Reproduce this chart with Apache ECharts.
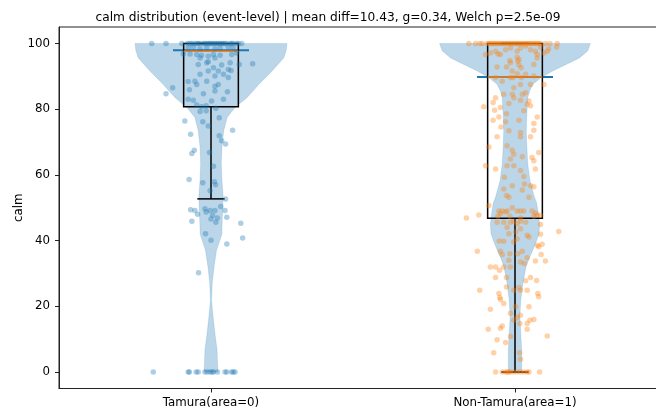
<!DOCTYPE html>
<html><head><meta charset="utf-8">
<script src="https://cdn.jsdelivr.net/npm/echarts@6/dist/echarts.min.js"></script>
<style>html,body{margin:0;padding:0;background:#fff}#c{width:656px;height:413px}</style>
</head><body><div id="c"></div>
<script>
const titleText = 'calm distribution (event-level) | mean diff=10.43, g=0.34, Welch p=2.5e-09';
const categories = ['Tamura(area=0)', 'Non-Tamura(area=1)'];
const yTicks = [0, 20, 40, 60, 80, 100];

// box statistics per group
const boxQ1 = [80.7, 46.8];
const boxMedian = [97.6, 89.8];
const boxQ3 = [100, 100];
const whiskerLow = [52.7, 0];
const whiskerHigh = [100, 100];
const violinMedian = [97.9, 89.8];

// violin profiles: [value, half-width in x units]
const violinTamura = [
  [100,0.250],[97.7,0.247],[95.6,0.239],[93.6,0.220],[91.6,0.201],[89.5,0.178],[87.5,0.157],
  [85.5,0.138],[83.5,0.118],[80.5,0.079],[77.5,0.053],[73.5,0.042],[68.5,0.036],[63.5,0.034],
  [58.5,0.036],[53.5,0.040],[48.5,0.038],[43.5,0.036],[42,0.036],[37,0.018],[32,0.010],
  [27,0.004],[21.8,0.002],[16.8,0.007],[11.7,0.013],[6.7,0.020],[1.6,0.022],[0,0.023]
];
const violinNonTamura = [
  [100,0.248],[97.7,0.239],[95.6,0.212],[93.6,0.168],[91.6,0.124],[89.6,0.086],[87.6,0.059],
  [85.5,0.048],[83.5,0.042],[78.5,0.039],[73.4,0.037],[68.4,0.039],[63.3,0.042],[58.3,0.049],
  [53.2,0.064],[51.6,0.071],[48.2,0.077],[45,0.081],[42.1,0.079],[39.5,0.069],[37,0.058],
  [34.5,0.046],[32,0.036],[27,0.026],[21.9,0.019],[16.9,0.016],[11.8,0.019],[6.7,0.022],
  [1.7,0.022],[0,0.022]
];

// jittered points: [x jitter, value]
const tamuraPoints = [
  [-0.195,100],[-0.148,100],[-0.096,100],[-0.078,100],[-0.064,100],[-0.047,100],[-0.036,100],[-0.025,100],
  [-0.014,100],[-0.003,100],[0.008,100],[0.019,100],[0.030,100],[0.041,100],[0.052,100],[0.063,100],
  [0.073,100],[0.084,100],[0.101,100],[-0.070,100],[-0.042,100],[-0.020,100],[0.002,100],[0.024,100],
  [0.046,100],[0.068,100],[0.090,100],[-0.055,100],[0.035,100],[0.013,100],[-0.008,100],
  [-0.075,98.6],[-0.058,98.9],[-0.036,98.4],[-0.014,98.6],[0.013,98.4],[0.030,98.6],[0.057,98.9],[0.073,98.6],
  [-0.069,96.8],[-0.047,96.6],[-0.031,96.4],[-0.009,96.1],[0.008,96.6],[0.030,96.4],[0.068,96.6],[0.084,97.1],
  [-0.091,96.8],[-0.036,95.6],[-0.009,94.4],[0.013,95.6],[-0.042,93.6],[-0.014,94.1],[0.093,93.6],[0.137,93.8],
  [0.063,94.1],[0.035,93.4],[0.008,92.6],[-0.036,90.6],[-0.009,91.6],[0.024,91.6],[0.057,92.1],[0.013,90.1],
  [0.041,90.6],[0.066,91.8],[-0.075,88.4],[-0.053,88.5],[-0.047,87.5],[-0.014,88.5],[0.013,87.0],[0.024,87.5],
  [0.057,89.6],[-0.126,86.5],[-0.148,84.7],[-0.071,85.9],[-0.025,84.7],[0.013,85.5],[0.054,85.3],
  [-0.075,83.0],[-0.058,82.7],[0.002,82.5],[0.041,83.0],[-0.047,81.3],[-0.031,80.7],[-0.016,81.0],
  [-0.036,79.3],[-0.016,79.5],[0.016,80.3],[-0.086,76.4],[-0.027,76.2],[0.027,77.4],[-0.009,74.9],
  [0.071,73.6],[-0.067,72.4],[0.027,71.9],[0.035,70.4],[0.048,69.4],[-0.055,67.5],[-0.063,66.5],
  [-0.005,66.8],[0.008,62.6],[-0.072,58.6],[-0.027,57.6],[0.011,57.9],[0.015,57.0],[-0.003,55.2],[0.048,52.7],
  [-0.067,49.4],[-0.053,49.2],[-0.044,48.0],[-0.020,49.7],[-0.016,48.7],[-0.003,49.2],[0.013,49.2],[0.032,50.4],
  [0.046,49.2],[0.052,47.1],[0.021,46.9],[0.005,47.7],[0,46.6],[0.016,45.6],[-0.063,45.9],[0.098,45.3],
  [-0.018,42.1],[0,40.1],[0.104,40.8],[0.052,39.0],[-0.041,30.2],
  [-0.190,0],[-0.075,0],[-0.071,0],[-0.049,0],[-0.042,0],[-0.020,0],[-0.012,0],[-0.003,0],
  [0.004,0],[0.008,0],[0.021,0],[0.046,0],[0.052,0],[0.068,0],[0.073,0],[0.079,0]
];
const nonTamuraPoints = [
  [-0.152,100],[-0.130,100],[-0.116,100],[-0.108,100],[-0.092,100],[-0.081,100],[-0.070,100],[-0.059,100],
  [-0.048,100],[-0.037,100],[-0.026,100],[-0.015,100],[-0.004,100],[0.007,100],[0.018,100],[0.029,100],
  [0.040,100],[0.051,100],[0.062,100],[0.073,100],[0.084,100],[0.100,100],[0.115,100],[0.139,100],
  [-0.086,100],[-0.075,100],[-0.064,100],[-0.053,100],[-0.042,100],[-0.031,100],[-0.020,100],[-0.009,100],
  [0.002,100],[0.013,100],[0.024,100],[0.035,100],[0.046,100],[0.056,100],[0.067,100],[0.078,100],
  [-0.097,96.6],[-0.081,97.1],[-0.064,97.6],[-0.048,96.6],[-0.031,98.1],[-0.015,98.6],[0.007,97.6],[0.018,98.6],
  [0.035,99.2],[0.051,98.1],[0.067,97.6],[0.084,98.9],[0.111,98.4],[0.137,98.9],[-0.056,96.8],[0.007,95.8],
  [0.013,95.1],[-0.017,94.8],[0.073,96.6],[0.095,97.1],[0.106,97.6],[-0.059,92.8],[-0.028,92.8],[-0.015,94.1],
  [0.009,94.6],[0.013,93.4],[0.020,92.6],[-0.009,91.6],[0.007,90.8],[0.035,90.6],[-0.006,89.6],[0.021,89.6],
  [0.062,90.1],[-0.064,89.6],[-0.015,89.6],[0.062,93.6],[0.073,95.6],[-0.042,88.5],[0.018,87.5],[0.051,87.5],
  [0.095,87.5],[-0.004,86.5],[-0.009,84.5],[0.024,84.5],[0.035,85.0],[-0.037,84.5],[-0.004,83.5],[0.046,82.5],
  [0.040,81.5],[-0.064,83.5],[-0.072,82.0],[-0.103,80.7],[-0.067,79.7],[-0.048,80.5],[-0.020,81.7],[0.018,82.7],
  [0.051,81.0],[0.029,79.5],[-0.028,78.6],[0.073,77.6],[-0.031,76.2],[0.013,76.6],[-0.072,76.6],[-0.053,77.6],
  [0.062,75.6],[0.062,73.6],[0.018,72.9],[-0.020,73.4],[-0.046,74.6],[-0.059,71.6],[0.018,71.6],[0.051,71.6],
  [-0.086,68.5],[-0.026,68.9],[-0.009,67.5],[-0.004,66.3],[0.024,65.5],[0.078,66.8],[-0.015,64.8],[0.056,65.3],
  [0.062,64.3],[-0.097,62.8],[-0.064,61.8],[-0.026,62.8],[-0.004,62.8],[0.067,61.8],[0.018,61.3],[0.029,59.5],
  [-0.035,59.3],[0.031,57.2],[-0.009,56.7],[0.051,56.7],[0.062,56.4],[0.024,55.4],[-0.037,55.7],[-0.028,53.7],
  [-0.020,53.2],[0.046,53.2],
  [-0.086,50.7],[-0.053,49.0],[-0.042,49.0],[-0.031,48.7],[-0.026,49.0],[-0.009,50.0],[0.007,49.0],[0.018,49.0],
  [0.029,49.0],[0.056,49.0],[0.067,48.4],[0.073,47.7],[-0.160,46.9],[-0.119,47.8],[-0.056,47.4],[-0.048,48.2],
  [-0.017,47.4],[0.018,46.9],[0.062,47.4],[0.084,47.7],[0.084,44.9],[-0.015,45.6],[-0.004,45.9],[0.007,45.1],
  [0.018,45.9],[0.035,45.6],[-0.037,45.6],[-0.059,45.6],[0.144,42.8],[-0.026,44.1],[0.018,43.6],[0.002,42.6],
  [0.040,41.6],[0.046,41.1],[-0.020,42.1],[0.007,40.6],[-0.004,39.6],[-0.052,39.9],[-0.037,39.8],[0.084,41.9],
  [0.073,38.6],[0.078,38.1],[0.089,38.9],[-0.048,36.8],[0.024,36.8],[-0.124,36.8],[-0.042,35.8],[-0.017,36.0],
  [0.009,36.0],[0.040,34.8],[0.018,33.5],[-0.020,34.0],[0.067,33.8],[0.100,33.8],[0.086,35.8],[-0.037,32.0],
  [-0.015,32.0],[-0.081,32.0],[-0.064,32.0],[-0.051,31.0],[0.031,33.0],[0.051,28.8],[0.071,27.9],[0.035,27.8],
  [-0.028,28.8],[-0.064,28.8],[-0.028,25.9],[0.013,25.7],[0.018,24.9],[-0.004,24.9],[0.040,24.9],[-0.116,24.9],
  [-0.053,23.9],[-0.050,22.7],[-0.048,22.1],[-0.037,20.9],[0.075,23.9],[0.078,22.9],[-0.081,19.1],[0.002,19.9],
  [0.046,19.9],[-0.015,17.9],[0.018,17.3],[-0.004,15.8],[0.007,16.6],[0.049,15.8],[0.062,16.0],[0.040,14.8],
  [0.016,14.8],[-0.042,14.0],[-0.048,13.3],[-0.088,13.0],[0.040,13.0],[-0.015,10.8],[0.106,11.0],[-0.059,9.8],
  [-0.031,9.0],[-0.070,5.9],[0.015,5.9],[0.018,3.9],
  [-0.064,0],[-0.042,0],[-0.031,0],[-0.026,0],[-0.020,0],[-0.015,0],[-0.004,0],[0.007,0],
  [0.018,0],[0.029,0],[0.040,0],[0.046,0],[0.081,0]
];

const violinProfiles = [violinTamura, violinNonTamura];
const pointSets = [tamuraPoints, nonTamuraPoints];
const pointColors = ['#1f77b4', '#ff7f0e'];
const FONT = 'DejaVu Sans';
const BOX_HALF = 0.09, CAP_HALF = 0.045, VMED_HALF = 0.125;

const chart = echarts.init(document.getElementById('c'), null, {renderer: 'canvas'});

const groupIdx = categories.map((c, i) => [i]);

const violinSeries = {
  type: 'custom', z: 1, silent: true,
  data: groupIdx,
  renderItem: function (params, api) {
    const g = api.value(0);
    const prof = violinProfiles[g];
    const pts = [];
    prof.forEach(([v, hw]) => pts.push(api.coord([g - hw, v])));
    for (let i = prof.length - 1; i >= 0; i--) pts.push(api.coord([g + prof[i][1], prof[i][0]]));
    return {type: 'polygon', shape: {points: pts}, style: {fill: 'rgba(31,119,180,0.3)', stroke: 'rgba(31,119,180,0.3)', lineWidth: 0.5}};
  }
};

const violinMedSeries = {
  type: 'custom', z: 2, silent: true,
  data: groupIdx,
  renderItem: function (params, api) {
    const g = api.value(0);
    const a = api.coord([g - VMED_HALF, violinMedian[g]]);
    const b = api.coord([g + VMED_HALF, violinMedian[g]]);
    return {type: 'line', shape: {x1: a[0], y1: a[1], x2: b[0], y2: b[1]}, style: {stroke: '#1f77b4', lineWidth: 2}};
  }
};

const boxSeries = {
  type: 'custom', z: 3, silent: true,
  data: groupIdx,
  renderItem: function (params, api) {
    const g = api.value(0);
    const tl = api.coord([g - BOX_HALF, boxQ3[g]]);
    const br = api.coord([g + BOX_HALF, boxQ1[g]]);
    const ln = (x1, v1, x2, v2, color, w) => {
      const p = api.coord([x1, v1]), q = api.coord([x2, v2]);
      return {type: 'line', shape: {x1: p[0], y1: p[1], x2: q[0], y2: q[1]}, style: {stroke: color, lineWidth: w}};
    };
    return {type: 'group', children: [
      {type: 'rect', shape: {x: tl[0], y: tl[1], width: br[0] - tl[0], height: br[1] - tl[1]}, style: {fill: null, stroke: '#000', lineWidth: 1.5}},
      ln(g, boxQ1[g], g, whiskerLow[g], '#000', 1.5),
      ln(g, boxQ3[g], g, whiskerHigh[g], '#000', 1.5),
      ln(g - CAP_HALF, whiskerLow[g], g + CAP_HALF, whiskerLow[g], '#000', 1.5),
      ln(g - CAP_HALF, whiskerHigh[g], g + CAP_HALF, whiskerHigh[g], '#000', 1.5),
      ln(g - BOX_HALF, boxMedian[g], g + BOX_HALF, boxMedian[g], '#ff7f0e', 1.5)
    ]};
  }
};

const scatterSeries = pointSets.map((pts, g) => ({
  type: 'scatter', z: 4, silent: true,
  symbol: 'circle', symbolSize: 5.5,
  itemStyle: {color: pointColors[g], opacity: 0.36},
  data: pts.map(([j, v]) => [g + j, v])
}));

chart.setOption({
  animation: false,
  backgroundColor: '#fff',
  title: {
    text: titleText, left: 'center', top: 7,
    textStyle: {fontFamily: FONT, fontSize: 12.2, fontWeight: 'normal', color: '#000'}
  },
  grid: {left: 59, top: 27, width: 608, height: 361.5, show: true, borderColor: '#222', borderWidth: 1,
         backgroundColor: 'transparent', containLabel: false, outerBoundsMode: 'none'},
  xAxis: {
    type: 'value', min: -0.5, max: 1.5,
    axisLine: {show: true, onZero: false, lineStyle: {color: '#222', width: 1}},
    axisTick: {show: true, customValues: [0, 1], length: 4, lineStyle: {color: '#222', width: 1}},
    axisLabel: {customValues: [0, 1], formatter: v => categories[Math.round(v)], color: '#000', fontFamily: FONT, fontSize: 11.8, margin: 8},
    splitLine: {show: false}
  },
  yAxis: {
    type: 'value', min: -5, max: 105,
    name: 'calm', nameLocation: 'middle', nameGap: 34, nameMoveOverlap: false,
    nameTextStyle: {fontFamily: FONT, fontSize: 11.8, color: '#000'},
    axisLine: {show: true, onZero: false, lineStyle: {color: '#222', width: 1}},
    axisTick: {show: true, customValues: yTicks, length: 4, lineStyle: {color: '#222', width: 1}},
    axisLabel: {customValues: yTicks, color: '#000', fontFamily: FONT, fontSize: 11.8, margin: 9},
    splitLine: {show: false}
  },
  series: [violinSeries, violinMedSeries, boxSeries].concat(scatterSeries)
});
</script>
</body></html>
